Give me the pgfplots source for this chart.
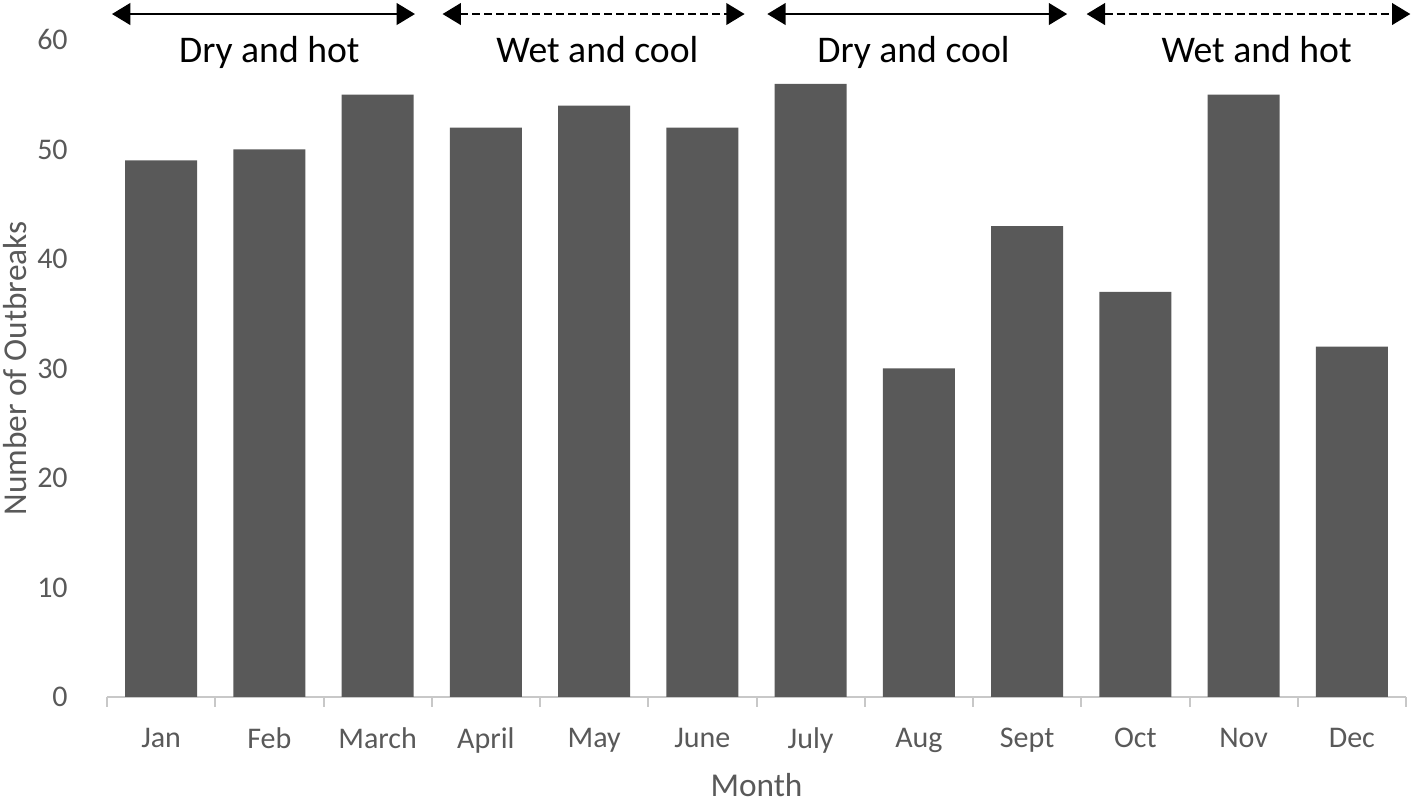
\documentclass[border=0pt]{standalone}
\usepackage{fontspec}
\setmainfont{Carlito}
\usepackage{pgfplots}
\pgfplotsset{compat=1.18}
\usetikzlibrary{arrows.meta}
\definecolor{bargray}{RGB}{89,89,89}
\definecolor{txtgray}{RGB}{89,89,89}
\definecolor{axgray}{RGB}{200,200,200}

\begin{document}
\begin{tikzpicture}
\begin{axis}[
    name=ax,
    scale only axis,
    width=389.7pt, height=197.1pt,
    xmin=-0.5, xmax=11.5, ymin=0, ymax=60,
    ybar, bar width=21.6pt,
    clip=false,
    axis lines*=left,
    x axis line style={axgray, line width=0.6pt},
    y axis line style={draw=none},
    xtick={0,...,11},
    xticklabels={Jan,Feb,March,April,May,June,July,Aug,Sept,Oct,Nov,Dec},
    minor xtick={-0.5,0.5,...,11.5},
    major x tick style={draw=none},
    minor x tick style={axgray, line width=0.6pt},
    minor tick length=3pt,
    tick align=outside,
    ytick={0,10,...,60},
    major y tick style={draw=none},
    tick label style={font=\fontsize{9}{10.8}\selectfont, text=txtgray},
    /pgf/number format/assume math mode=true,
    xticklabel style={yshift=-1.5pt},
    yticklabel style={xshift=-4pt},
    every axis x label/.style={at={(axis description cs:0.5,0)}, yshift=-26.5pt, anchor=center},
    every axis y label/.style={at={(axis description cs:0,0.5)}, xshift=-27.6pt, rotate=90, anchor=center},
    label style={font=\fontsize{10}{12}\selectfont, text=txtgray},
    xlabel={Month},
    ylabel={Number of Outbreaks},
]
\addplot[fill=bargray, draw=none] coordinates {
    (0,49) (1,50) (2,55) (3,52) (4,54) (5,52)
    (6,56) (7,30) (8,43) (9,37) (10,55) (11,32)
};

\tikzset{sea/.style={{Triangle[length=5.5pt,width=6.5pt]}-{Triangle[length=5.5pt,width=6.5pt]}, line width=0.6pt, black}}
\draw[sea] (axis cs:-0.454,62.37) -- (axis cs:2.345,62.37);
\draw[sea, dash pattern=on 2.4pt off 1.2pt] (axis cs:2.60,62.37) -- (axis cs:5.39,62.37);
\draw[sea] (axis cs:5.60,62.37) -- (axis cs:8.37,62.37);
\draw[sea, dash pattern=on 2.4pt off 1.2pt] (axis cs:8.55,62.37) -- (axis cs:11.54,62.37);

\node[anchor=base, font=\fontsize{11.3}{13}\selectfont] at (axis cs:1.0,57.9) {Dry and hot};
\node[anchor=base, font=\fontsize{11.3}{13}\selectfont] at (axis cs:4.03,57.9) {Wet and cool};
\node[anchor=base, font=\fontsize{11.3}{13}\selectfont] at (axis cs:6.95,57.9) {Dry and cool};
\node[anchor=base, font=\fontsize{11.3}{13}\selectfont] at (axis cs:10.12,57.9) {Wet and hot};
\end{axis}
\pgfresetboundingbox
\path ([shift={(-32.1pt,-31.8pt)}]ax.south west) rectangle ([shift={(3.6pt,12pt)}]ax.north east);
\end{tikzpicture}
\end{document}
